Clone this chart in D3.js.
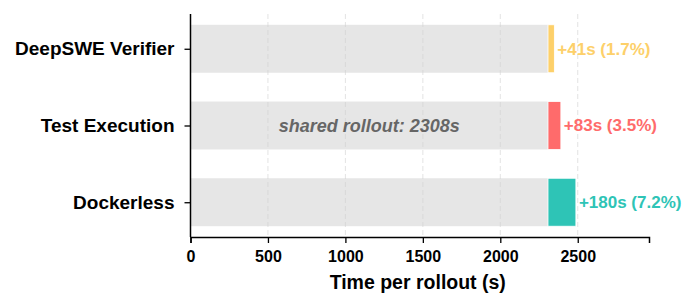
<!DOCTYPE html>
<html>
<head>
<meta charset="utf-8">
<script src="https://cdn.jsdelivr.net/npm/d3@7"></script>
<style>
  body { margin: 0; background: #fff; }
  text { font-family: "Liberation Sans", Arial, Helvetica, sans-serif; }
</style>
</head>
<body>
<svg id="chart" width="697" height="308"></svg>
<script>
// data
const categories = ["DeepSWE Verifier", "Test Execution", "Dockerless"];
const sharedRollout = 2308;
const extraSeconds = [41, 83, 180];
const extraPct = [1.7, 3.5, 7.2];
const barColors = ["#fdd06a", "#ff6b6b", "#2ec4b6"];
const xTicks = [0, 500, 1000, 1500, 2000, 2500];

const margin = { top: 14, right: 48, bottom: 71, left: 190.5 };
const width = 697, height = 308;

const svg = d3.select("#chart");

const x = d3.scaleLinear()
    .domain([0, 2960])
    .range([margin.left, width - margin.right]);

const y = d3.scalePoint()
    .domain(categories)
    .range([margin.top, height - margin.bottom])
    .padding(0.453);

const barH = y.step() * 0.625;

const rows = categories.map((c, i) => ({
    name: c, extra: extraSeconds[i], pct: extraPct[i], color: barColors[i]
}));

// shared grey part
svg.append("g").selectAll("rect")
    .data(rows)
    .join("rect")
    .attr("x", x(0))
    .attr("y", d => y(d.name) - barH / 2)
    .attr("width", x(sharedRollout) - x(0))
    .attr("height", barH)
    .attr("fill", "#e6e6e6");

// extra overhead part
svg.append("g").selectAll("rect")
    .data(rows)
    .join("rect")
    .attr("x", x(sharedRollout))
    .attr("y", d => y(d.name) - barH / 2)
    .attr("width", d => x(sharedRollout + d.extra) - x(sharedRollout))
    .attr("height", barH)
    .attr("fill", d => d.color)
    .attr("stroke", "#fff")
    .attr("stroke-width", 0.8);

// dashed grid on top, faint
svg.append("g").selectAll("line")
    .data(xTicks.slice(1))
    .join("line")
    .attr("x1", d => x(d)).attr("x2", d => x(d))
    .attr("y1", margin.top).attr("y2", height - margin.bottom)
    .attr("stroke", "#d0d0d0")
    .attr("stroke-opacity", 0.6)
    .attr("stroke-dasharray", "5,3");

// overhead labels
svg.append("g").selectAll("text")
    .data(rows)
    .join("text")
    .attr("x", d => x(sharedRollout + d.extra) + 3)
    .attr("y", d => y(d.name))
    .attr("dy", "0.35em")
    .attr("font-size", 17)
    .attr("font-weight", "bold")
    .attr("fill", d => d.color)
    .text(d => `+${d.extra}s (${d.pct}%)`);

svg.append("text")
    .attr("x", x(sharedRollout / 2))
    .attr("y", y(categories[1]))
    .attr("dy", "0.35em")
    .attr("text-anchor", "middle")
    .attr("font-size", 18)
    .attr("font-weight", "bold")
    .attr("font-style", "italic")
    .attr("fill", "#666")
    .text(`shared rollout: ${sharedRollout}s`);

// axes
const xAxis = svg.append("g")
    .attr("transform", `translate(0,${height - margin.bottom})`)
    .call(d3.axisBottom(x).tickValues(xTicks).tickSize(6).tickPadding(8).tickFormat(d3.format("d")));
xAxis.select(".domain").attr("stroke", "#000").attr("stroke-width", 1.5);
xAxis.selectAll(".tick line").attr("stroke", "#000").attr("stroke-width", 1.3);
xAxis.selectAll(".tick text")
    .attr("font-size", 16)
    .attr("font-weight", "bold")
    .attr("fill", "#000")
    .style("font-family", "'Liberation Sans', Arial, sans-serif");

const yAxis = svg.append("g")
    .attr("transform", `translate(${margin.left},0)`)
    .call(d3.axisLeft(y).tickSize(6).tickPadding(10));
yAxis.select(".domain").attr("stroke", "#000").attr("stroke-width", 1.5)
    .attr("d", `M0,${margin.top}V${height - margin.bottom}`);
yAxis.selectAll(".tick line").attr("stroke", "#000").attr("stroke-width", 1.3);
yAxis.selectAll(".tick text")
    .attr("font-size", 19)
    .attr("font-weight", "bold")
    .attr("fill", "#000")
    .style("font-family", "'Liberation Sans', Arial, sans-serif");

svg.append("text")
    .attr("x", (margin.left + width - margin.right) / 2 - 2)
    .attr("y", 289)
    .attr("text-anchor", "middle")
    .attr("font-size", 19.5)
    .attr("font-weight", "bold")
    .attr("fill", "#000")
    .text("Time per rollout (s)");
</script>
</body>
</html>
